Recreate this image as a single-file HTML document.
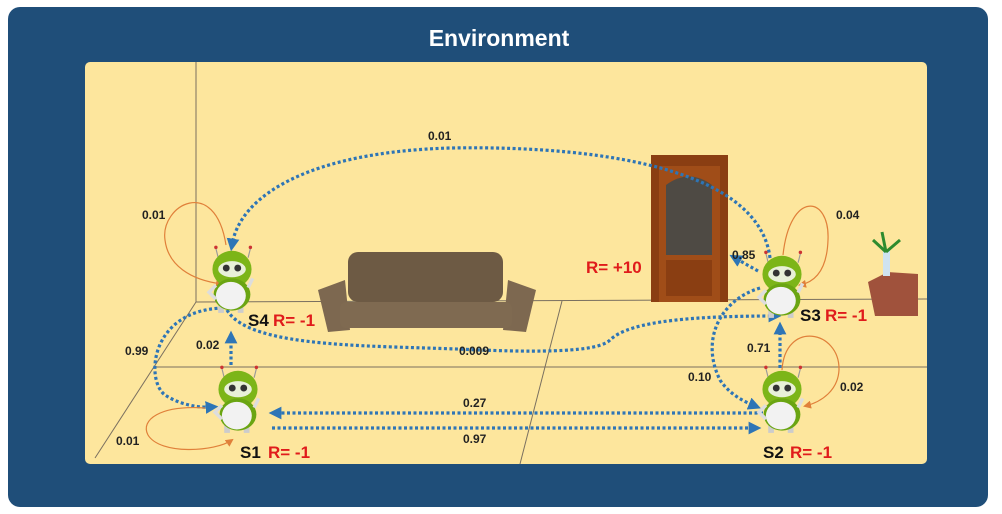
<!DOCTYPE html>
<html><head><meta charset="utf-8"><style>
html,body{margin:0;padding:0;background:#fff;}
svg{display:block;font-family:"Liberation Sans",sans-serif;}
.p{font-size:12px;font-weight:bold;fill:#222;}
.s{font-size:17px;font-weight:bold;fill:#111;}
.r{font-size:17px;font-weight:bold;fill:#e01b1b;}
.dot{fill:none;stroke:#2e75b6;stroke-width:3.2;stroke-dasharray:3 2.5;}
.loop{fill:none;stroke:#e0803a;stroke-width:1.2;}
.wall{stroke:#7a7060;stroke-width:1;fill:none;}
</style></head><body>
<svg width="1002" height="514" viewBox="0 0 1002 514">
<defs>
<marker id="ab" markerWidth="4" markerHeight="4" refX="2" refY="2" orient="auto" markerUnits="strokeWidth"><path d="M0,0 L4,2 L0,4 Z" fill="#2e75b6"/></marker>
<marker id="ao" markerWidth="8" markerHeight="8" refX="6" refY="4" orient="auto" markerUnits="userSpaceOnUse"><path d="M0,0 L8,4 L0,8 Z" fill="#e0803a"/></marker>
<g id="robot">
<line x1="-14" y1="-30" x2="-12" y2="-22" stroke="#999" stroke-width="1"/>
<line x1="16" y1="-30" x2="14" y2="-22" stroke="#999" stroke-width="1"/>
<circle cx="-14" cy="-31" r="1.5" fill="#c33"/><circle cx="16" cy="-31" r="1.5" fill="#c33"/>
<rect x="-12" y="14" width="5" height="12" fill="#ccc"/><rect x="5" y="14" width="5" height="12" fill="#ccc"/>
<ellipse cx="0" cy="-12" rx="17" ry="16" fill="#7cb518"/>
<ellipse cx="0" cy="-12" rx="12" ry="7" fill="#e8f0d8"/>
<circle cx="-5" cy="-13" r="3" fill="#333"/><circle cx="5" cy="-13" r="3" fill="#333"/>
<ellipse cx="0" cy="10" rx="16" ry="14" fill="#6aa512"/>
<ellipse cx="-1" cy="11" rx="13" ry="12" fill="#f2f2f2"/>
<path d="M-14,2 L-20,8 L-14,14" stroke="#ddd" stroke-width="3" fill="none"/>
<path d="M14,4 L18,-4" stroke="#ddd" stroke-width="3" fill="none"/>
</g>
</defs>
<rect x="8" y="7" width="980" height="500" rx="12" fill="#1f4e79"/>
<text x="499" y="46" text-anchor="middle" font-size="23" font-weight="bold" fill="#fff">Environment</text>
<rect x="85" y="62" width="842" height="402" rx="5" fill="#fde69d"/>
<g>
<line class="wall" x1="196" y1="62" x2="196" y2="302"/>
<line class="wall" x1="196" y1="302" x2="927" y2="299"/>
<line class="wall" x1="196" y1="302" x2="95" y2="458"/>
<line class="wall" x1="155" y1="367" x2="927" y2="367"/>
<line class="wall" x1="562" y1="301" x2="520" y2="464"/>
</g>
<g>
<rect x="348" y="252" width="155" height="50" rx="10" fill="#6d5a44"/>
<path d="M318,290 L345,280 L350,330 L328,332 Z" fill="#7d6850"/>
<path d="M536,290 L508,280 L503,330 L526,332 Z" fill="#7d6850"/>
<rect x="340" y="302" width="172" height="26" rx="6" fill="#7f6a51"/>
</g>
<g>
<rect x="651" y="155" width="77" height="147" fill="#8a3e12"/>
<rect x="659" y="166" width="61" height="136" fill="#a04d18"/>
<path d="M666,255 L666,185 Q689,168 712,185 L712,255 Z" fill="#4e4a44"/>
<rect x="666" y="260" width="46" height="36" fill="#8a3e12"/>
</g>
<g>
<path d="M868,282 L888,272 L918,274 L918,316 L875,316 Z" fill="#a0523c"/>
<rect x="883" y="250" width="7" height="26" fill="#cfe3f0"/>
<path d="M886,252 L873,240 M886,252 L900,240 M886,252 L882,232" stroke="#2e8b2e" stroke-width="3"/>
</g>
<text x="586" y="273" class="r">R= +10</text>
<g>
<path class="dot" d="M770,258 C760,175 620,145 450,148 C310,152 240,195 232,245" marker-end="url(#ab)"/>
<path class="dot" d="M758,271 L735,258" marker-end="url(#ab)"/>
<path class="dot" d="M227,310 C250,350 380,345 480,350 C560,353 600,350 610,340 C630,320 700,316 775,316" marker-end="url(#ab)"/>
<path class="dot" d="M760,288 C720,300 700,340 720,380 C730,395 745,402 755,406" marker-end="url(#ab)"/>
<path class="dot" d="M780,368 L780,328" marker-end="url(#ab)"/>
<path class="dot" d="M223,308 C150,310 145,380 165,395 C180,405 200,408 212,407" marker-end="url(#ab)"/>
<path class="dot" d="M231,365 L231,337" marker-end="url(#ab)"/>
<path class="dot" d="M763,413 L275,413" marker-end="url(#ab)"/>
<path class="dot" d="M272,428 L755,428" marker-end="url(#ab)"/>
<path class="loop" d="M226,245 C215,175 160,205 165,240 C168,265 190,280 222,284" marker-end="url(#ao)"/>
<path class="loop" d="M783,255 C790,190 830,195 828,240 C827,270 815,282 800,285" marker-end="url(#ao)"/>
<path class="loop" d="M782,370 C785,320 840,330 839,370 C838,390 822,402 805,406" marker-end="url(#ao)"/>
<path class="loop" d="M205,408 C160,405 140,420 148,435 C160,455 215,452 232,440" marker-end="url(#ao)"/>
</g>
<use href="#robot" transform="translate(232,283) scale(1.15)"/>
<use href="#robot" transform="translate(238,403) scale(1.15)"/>
<use href="#robot" transform="translate(782,288) scale(1.15)"/>
<use href="#robot" transform="translate(782,403) scale(1.15)"/>
<g>
<text x="248" y="326" class="s">S4</text><text x="273" y="326" class="r">R= -1</text>
<text x="240" y="458" class="s">S1</text><text x="268" y="458" class="r">R= -1</text>
<text x="800" y="321" class="s">S3</text><text x="825" y="321" class="r">R= -1</text>
<text x="763" y="458" class="s">S2</text><text x="790" y="458" class="r">R= -1</text>
</g>
<g>
<text x="428" y="140" class="p">0.01</text>
<text x="142" y="219" class="p">0.01</text>
<text x="836" y="219" class="p">0.04</text>
<text x="732" y="259" class="p">0.85</text>
<text x="125" y="355" class="p">0.99</text>
<text x="196" y="349" class="p">0.02</text>
<text x="459" y="355" class="p">0.009</text>
<text x="747" y="352" class="p">0.71</text>
<text x="688" y="381" class="p">0.10</text>
<text x="840" y="391" class="p">0.02</text>
<text x="463" y="407" class="p">0.27</text>
<text x="463" y="443" class="p">0.97</text>
<text x="116" y="445" class="p">0.01</text>
</g>
</svg>
</body></html>
